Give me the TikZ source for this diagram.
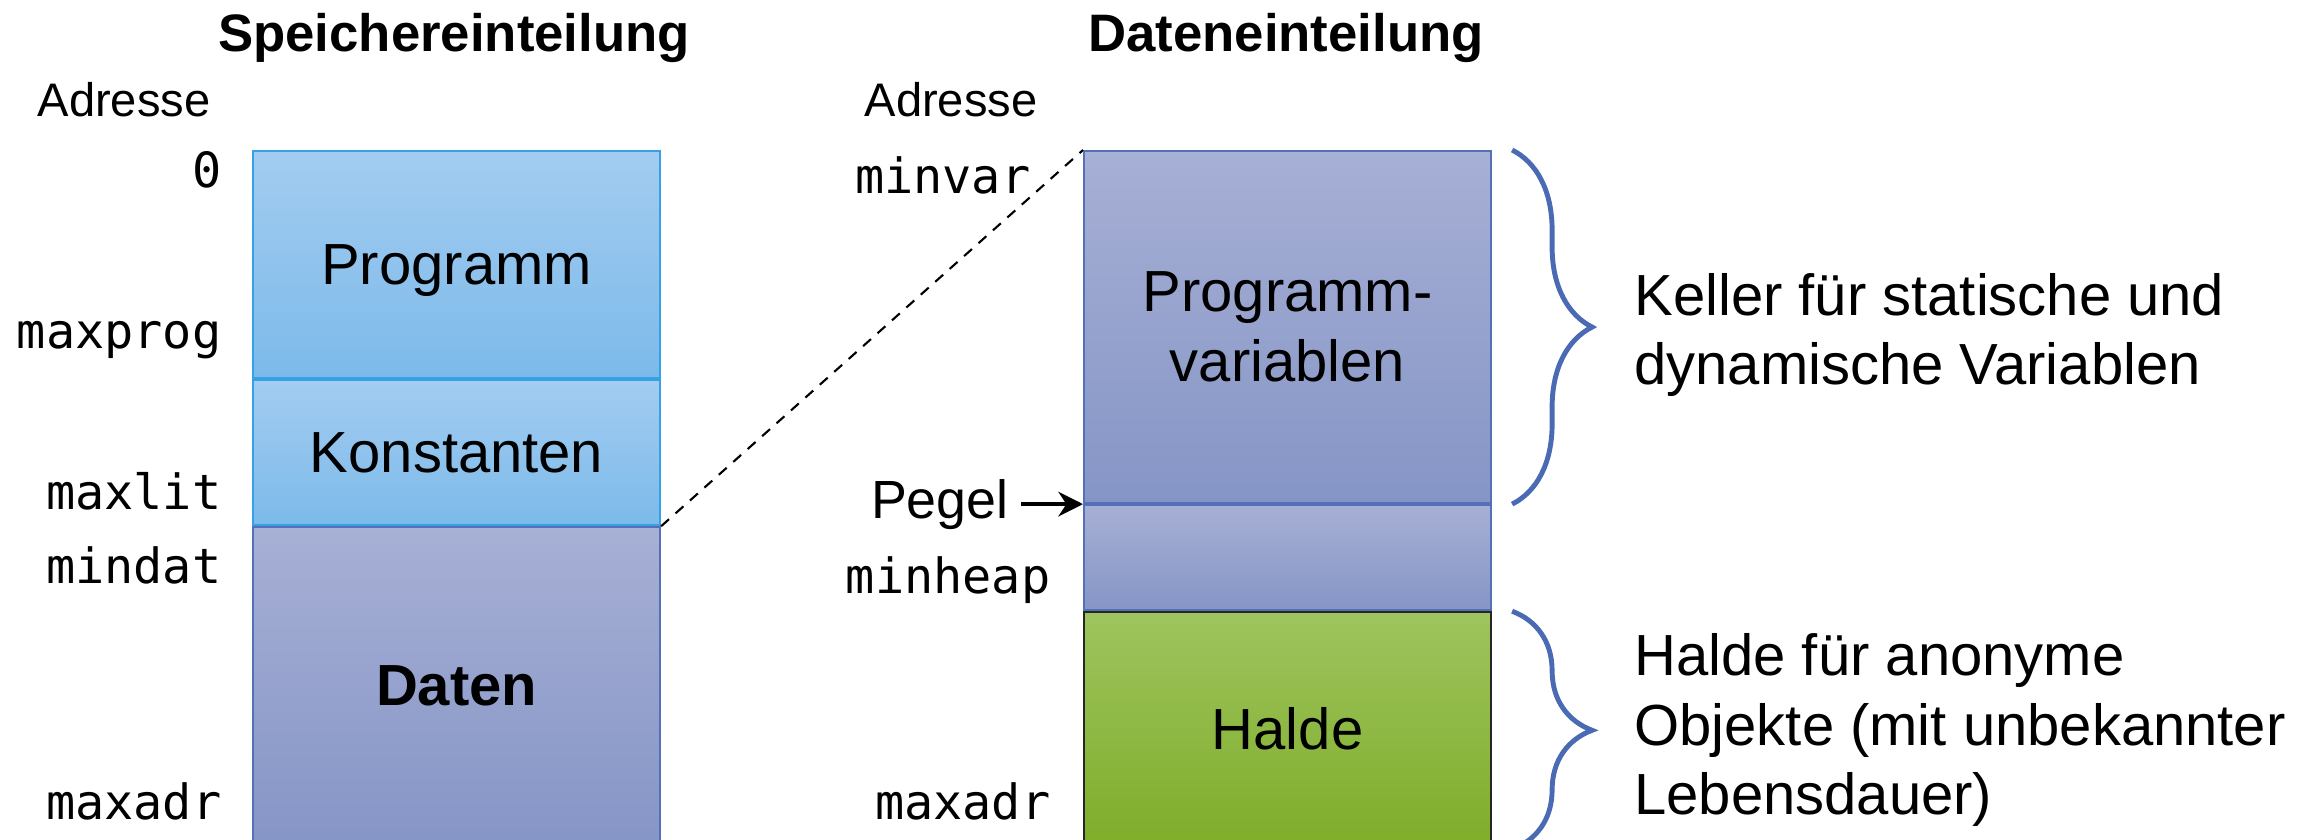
\documentclass[tikz,border=0pt]{standalone}
\usepackage{fontspec}
\setmainfont{Liberation Sans}
\setmonofont{DejaVu Sans Mono}
\usepackage{tikz}
\usetikzlibrary{positioning,arrows.meta,decorations.pathreplacing}
\definecolor{progTop}{HTML}{A3CCF0}
\definecolor{progBot}{HTML}{7CBAEA}
\definecolor{progLine}{HTML}{35A2E6}
\definecolor{datTop}{HTML}{A7B0D5}
\definecolor{datBot}{HTML}{8595C6}
\definecolor{datLine}{HTML}{5470B6}
\definecolor{heapTop}{HTML}{9EC45E}
\definecolor{heapBot}{HTML}{7FAD2A}
\definecolor{braceBlue}{HTML}{4A6BB4}

\begin{document}
\begin{tikzpicture}[
    seg/.style={minimum width=4.07cm, inner sep=0pt, align=center, line width=0.6pt,
                font=\fontsize{16.5}{20}\selectfont},
    progseg/.style={seg, draw=progLine, top color=progTop, bottom color=progBot},
    datseg/.style={seg, draw=datLine, top color=datTop, bottom color=datBot},
    heapseg/.style={seg, draw=black!85, top color=heapTop, bottom color=heapBot},
    addr/.style={anchor=east, inner sep=0pt, font=\ttfamily\fontsize{13.8}{16}\selectfont},
    head/.style={font=\bfseries\fontsize{15}{18}\selectfont},
    lbl/.style={font=\fontsize{13.4}{16}\selectfont},
    note/.style={anchor=west, align=left, font=\fontsize{16.5}{19.8}\selectfont},
    curly/.style={decorate, decoration={brace, amplitude=0.8cm}, draw=braceBlue, line width=1.4pt}]
  \useasboundingbox (0,0) rectangle (23.21,-8.39);

  % Speichereinteilung
  \node[head] (t1) at (4.54,-0.38) {Speichereinteilung};
  \node[lbl] (adr1) at (1.24,-1.00) {Adresse};
  \node[progseg, minimum height=2.27cm, text depth=0pt, anchor=north west] (prog) at (2.52,-1.50) {Programm};
  \node[progseg, minimum height=1.45cm, below=0pt of prog] (kon) {Konstanten};
  \node[datseg, minimum height=3.17cm, below=0pt of kon] (dat) {\bfseries Daten};

  \node[addr] (a0) at (2.22,-1.70) {0};
  \node[addr] (amaxprog) at (2.22,-3.40) {maxprog};
  \node[addr] (amaxlit) at (2.22,-4.91) {maxlit};
  \node[addr] (amindat) at (2.22,-5.65) {mindat};
  \node[addr] (amaxadr) at (2.22,-8.01) {maxadr};

  % Dateneinteilung
  \node[head] (t2) at (12.86,-0.38) {Dateneinteilung};
  \node[lbl] (adr2) at (9.51,-1.00) {Adresse};
  \node[datseg, minimum height=3.52cm, anchor=north west] (pv) at (10.83,-1.50) {Programm-\\variablen};
  \node[datseg, minimum height=1.05cm, below=0pt of pv] (frei) {};
  \node[heapseg, minimum height=2.32cm, below=0pt of frei] (halde) {Halde};

  \node[addr] (bminvar) at (10.31,-1.75) {minvar};
  \node[addr] (bminheap) at (10.51,-5.80) {minheap};
  \node[addr] (bmaxadr) at (10.51,-8.01) {maxadr};
  \node[font=\fontsize{15.3}{18}\selectfont, left=0.62cm of pv.south west] (pegel) {Pegel};
  \draw[-{Stealth[length=7pt,width=7pt]}, line width=1.2pt] (pegel.east) -- (pv.south west);

  \draw[dashed, dash pattern=on 3pt off 2.5pt, line width=0.6pt] (kon.south east) -- (pv.north west);

  % Klammern
  \coordinate (k1a) at ([xshift=0.2cm]pv.north east);
  \coordinate (k1b) at ([xshift=0.2cm]pv.south east);
  \coordinate (k2a) at ([xshift=0.2cm]halde.north east);
  \coordinate (k2b) at ([xshift=0.2cm, yshift=-0.04cm]halde.south east);
  \draw[curly] (k1a) -- (k1b);
  \draw[curly] (k2a) -- (k2b);
  \node[note] (keller) at (16.22,-3.35) {Keller für statische und\\dynamische Variablen};
  \node[note] (haldetxt) at (16.22,-7.30) {Halde für anonyme\\Objekte (mit unbekannter\\Lebensdauer)};
\end{tikzpicture}
\end{document}
